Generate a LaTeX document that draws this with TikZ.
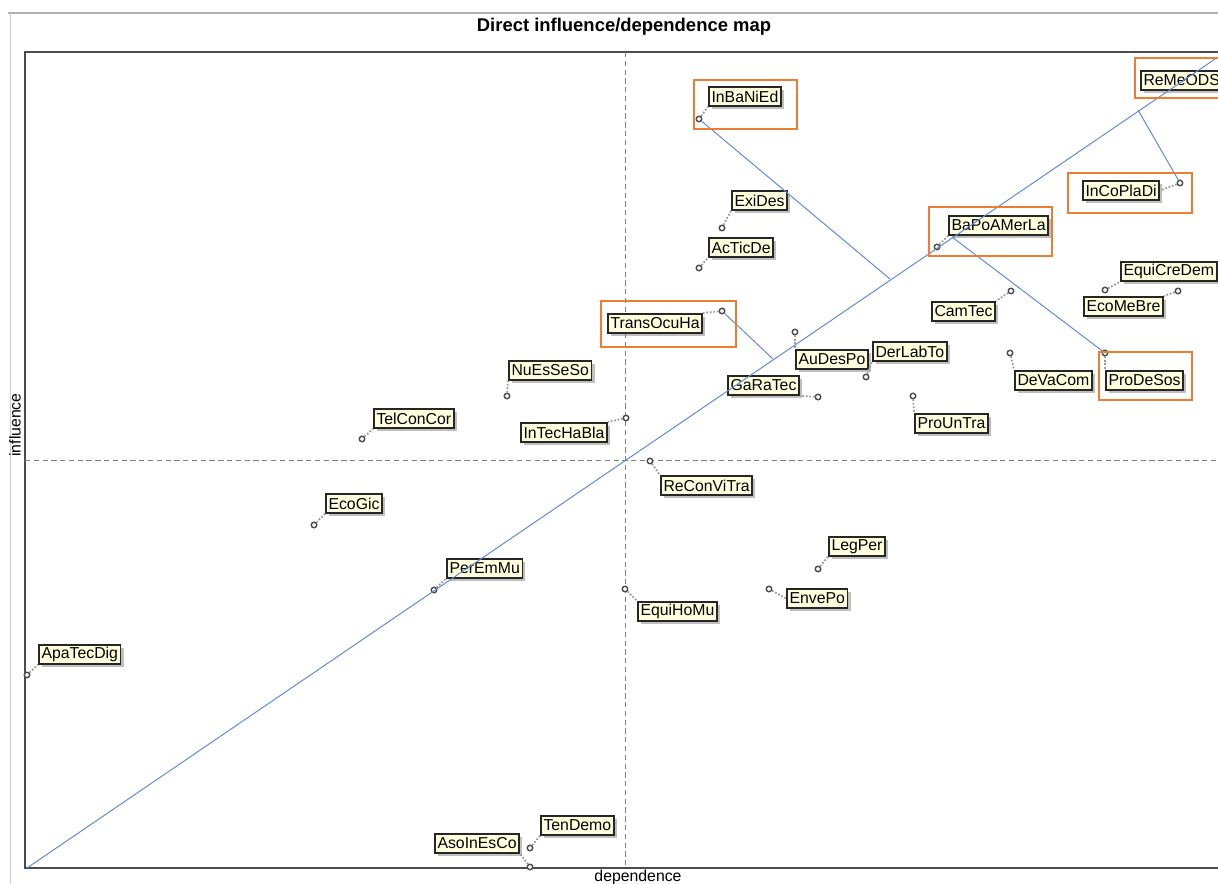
\documentclass[tikz,border=0pt]{standalone}
\usepackage{fontspec}
\setmainfont{Liberation Sans}
\usepackage{xcolor}
\usetikzlibrary{shadows, positioning, calc}

\definecolor{mapblue}{RGB}{95,135,215}
\definecolor{frameorange}{RGB}{237,125,49}
\definecolor{labelfill}{RGB}{255,255,222}

\begin{document}
\begin{tikzpicture}[x=0.02cm, y=-0.02cm,
    % Styles for labels, points and lines
    varbox/.style={rectangle, draw=black!85, line width=1pt, fill=labelfill, anchor=north west, inner xsep=1.5pt, inner ysep=0pt, minimum height=0.38cm, font=\fontsize{9}{10}\selectfont, drop shadow={shadow xshift=0.06cm, shadow yshift=-0.06cm, opacity=0.5}},
    varpt/.style={circle, draw=black!70, line width=0.8pt, fill=white, inner sep=0pt, minimum size=0.11cm},
    leader/.style={densely dotted, gray!80, line width=1pt},
    hilite/.style={draw=frameorange, line width=1.2pt},
    axisline/.style={densely dashed, gray, line width=0.5pt},
    mapline/.style={mapblue, line width=0.55pt}
]
\useasboundingbox (0,0) rectangle (1218,884);

% Window and plot frame
\draw[gray!60, line width=1.2pt] (8,13) -- (1218,13);
\draw[gray!40, line width=0.5pt] (10,13) -- (10,884);
\draw[black!70, line width=1.1pt] (1218,52) -- (25,52) -- (25,868) -- (1218,868);

\node[font=\bfseries\fontsize{10.5}{12}\selectfont] (title) at (624,27) {Direct influence/dependence map};
\node[font=\fontsize{9}{10}\selectfont, rotate=90] (ylab) at (15,425) {influence};
\node[font=\fontsize{9}{10}\selectfont] (xlab) at (638,877) {dependence};

% Mean axes
\draw[axisline] (625,52) -- (625,868);
\draw[axisline] (25,460) -- (1218,460);

% === VARIABLES ===
\node[varpt] (p1) at (699,119) {};
\node[varbox] (b1) at (708,86) {InBaNiEd};
\node[varbox] (b2) at (1140,70) {ReMeODS};
\node[varpt] (p3) at (1180,183) {};
\node[varbox] (b3) at (1082,180) {InCoPlaDi};
\node[varpt] (p4) at (722,228) {};
\node[varbox] (b4) at (731,190) {ExiDes};
\node[varpt] (p5) at (699,268) {};
\node[varbox] (b5) at (708,237) {AcTicDe};
\node[varpt] (p6) at (937,247) {};
\node[varbox] (b6) at (948,215) {BaPoAMerLa};
\node[varpt] (p7) at (1105,290) {};
\node[varbox] (b7) at (1120,261) {EquiCreDem};
\node[varpt] (p8) at (1178,291) {};
\node[varbox] (b8) at (1083,296) {EcoMeBre};
\node[varpt] (p9) at (1011,291) {};
\node[varbox] (b9) at (931,301) {CamTec};
\node[varpt] (p10) at (722,311) {};
\node[varbox] (b10) at (607,313) {TransOcuHa};
\node[varpt] (p11) at (795,332) {};
\node[varbox] (b11) at (795,349) {AuDesPo};
\node[varpt] (p12) at (866,377) {};
\node[varbox] (b12) at (872,341) {DerLabTo};
\node[varpt] (p13) at (507,396) {};
\node[varbox] (b13) at (508,360) {NuEsSeSo};
\node[varpt] (p14) at (1010,353) {};
\node[varbox] (b14) at (1014,370) {DeVaCom};
\node[varpt] (p15) at (1105,353) {};
\node[varbox] (b15) at (1105,370) {ProDeSos};
\node[varpt] (p16) at (818,397) {};
\node[varbox] (b16) at (727,375) {GaRaTec};
\node[varpt] (p17) at (913,396) {};
\node[varbox] (b17) at (914,413) {ProUnTra};
\node[varpt] (p18) at (362,439) {};
\node[varbox] (b18) at (373,408) {TelConCor};
\node[varpt] (p19) at (626,418) {};
\node[varbox] (b19) at (520,422) {InTecHaBla};
\node[varpt] (p20) at (650,461) {};
\node[varbox] (b20) at (660,475) {ReConViTra};
\node[varpt] (p21) at (314,525) {};
\node[varbox] (b21) at (325,493) {EcoGic};
\node[varpt] (p22) at (818,569) {};
\node[varbox] (b22) at (828,536) {LegPer};
\node[varpt] (p23) at (434,590) {};
\node[varbox] (b23) at (446,558) {PerEmMu};
\node[varpt] (p24) at (769,589) {};
\node[varbox] (b24) at (786,588) {EnvePo};
\node[varpt] (p25) at (625,589) {};
\node[varbox] (b25) at (637,601) {EquiHoMu};
\node[varpt] (p26) at (27,675) {};
\node[varbox] (b26) at (38,644) {ApaTecDig};
\node[varpt] (p27) at (530,848) {};
\node[varbox] (b27) at (540,815) {TenDemo};
\node[varpt] (p28) at (530,867) {};
\node[varbox] (b28) at (434,833) {AsoInEsCo};

% Leaders from points to labels
\draw[leader] (p1) -- (b1.south west);
\draw[leader] (p3) -- (b3.east);
\draw[leader] (p4) -- (b4.south west);
\draw[leader] (p5) -- (b5.south west);
\draw[leader] (p6) -- (b6.south west);
\draw[leader] (p7) -- (b7.south west);
\draw[leader] (p8) -- (b8.north east);
\draw[leader] (p9) -- (b9.north east);
\draw[leader] (p10) -- (b10.north east);
\draw[leader] (p11) -- (b11.north west);
\draw[leader] (p12) -- (b12.south west);
\draw[leader] (p13) -- (b13.south west);
\draw[leader] (p14) -- (b14.north west);
\draw[leader] (p15) -- (b15.north west);
\draw[leader] (p16) -- (b16.south east);
\draw[leader] (p17) -- (b17.north west);
\draw[leader] (p18) -- (b18.south west);
\draw[leader] (p19) -- (b19.north east);
\draw[leader] (p20) -- (b20.north west);
\draw[leader] (p21) -- (b21.south west);
\draw[leader] (p22) -- (b22.south west);
\draw[leader] (p23) -- (b23.south west);
\draw[leader] (p24) -- (b24.west);
\draw[leader] (p25) -- (b25.north west);
\draw[leader] (p26) -- (b26.south west);
\draw[leader] (p27) -- (b27.south west);
\draw[leader] (p28) -- (b28.south east);

% === DIAGONAL AND SHIFTS ===
\coordinate (dstart) at (27,868);
\coordinate (dend) at (1218,57);
\coordinate (foot1) at (890,279);
\coordinate (foot3) at (1138,110);
\coordinate (foot15) at (952,237);
\coordinate (foot10) at (773,359);

\draw[mapline] (dstart) -- (dend);
\draw[mapline] (p1) -- (foot1);
\draw[mapline] (foot3) -- (p3);
\draw[mapline] (foot15) -- (p15);
\draw[mapline] (p10) -- (foot10);

% Highlight frames
\draw[hilite] (694,80) rectangle (797,129);
\draw[hilite] (1135,58) rectangle (1222,98);
\draw[hilite] (1068,173) rectangle (1192,213);
\draw[hilite] (929,207) rectangle (1052,256);
\draw[hilite] (601,301) rectangle (736,347);
\draw[hilite] (1099,352) rectangle (1192,400);

\end{tikzpicture}
\end{document}
